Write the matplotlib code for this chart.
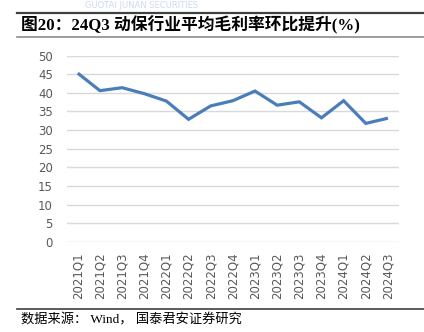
import matplotlib
matplotlib.use("Agg")
import matplotlib.pyplot as plt
from matplotlib.lines import Line2D

# 动保行业季度平均毛利率 (%)
quarters = ["2021Q1", "2021Q2", "2021Q3", "2021Q4",
            "2022Q1", "2022Q2", "2022Q3", "2022Q4",
            "2023Q1", "2023Q2", "2023Q3", "2023Q4",
            "2024Q1", "2024Q2", "2024Q3"]
gross_margin = [45.3, 40.6, 41.4, 39.8, 37.8, 32.9, 36.5, 37.9,
                40.5, 36.7, 37.6, 33.3, 37.9, 31.8, 33.2]
y_ticks = list(range(0, 55, 5))

title = "图20：24Q3 动保行业平均毛利率环比提升(%)"
source = "数据来源： Wind， 国泰君安证券研究"

W, H = 424, 332
fig = plt.figure(figsize=(W / 100, H / 100), dpi=100)

ax = fig.add_axes([66.7 / W, 1 - 241.7 / H, 332.3 / W, 186 / H])
x = list(range(len(quarters)))
ax.plot(x, gross_margin, color="#4a7ebb", linewidth=2.3,
        solid_joinstyle="miter", solid_capstyle="butt", zorder=3)

ax.set_xlim(-0.5, len(quarters) - 0.5)
ax.set_ylim(0, 50)
ax.set_yticks(y_ticks)
ax.set_xticks(x)
ax.set_xticklabels(quarters, rotation=90)
ax.grid(axis="y", color="#d9d9d9", linewidth=1.0, zorder=0)
ax.tick_params(axis="both", length=0, colors="#595959", labelsize=8.5)
ax.tick_params(axis="x", pad=8)
ax.tick_params(axis="y", pad=10)
for s in ax.spines.values():
    s.set_visible(False)

# 页眉淡色文字
fig.text(85 / W, 1 - 1 / H, "GUOTAI JUNAN SECURITIES", color="#c8dcef",
         fontsize=6, ha="left", va="top", family="DejaVu Sans")

# 标题及上下分隔线
fig.add_artist(Line2D([17 / W, 1], [1 - 13.3 / H] * 2, color="#404040",
                      linewidth=1.6, transform=fig.transFigure))
fig.text(21 / W, 1 - 25 / H, title, fontsize=12.1, fontweight="bold",
         family=["Liberation Serif", "Noto Sans CJK SC"],
         ha="left", va="center", color="black")
fig.add_artist(Line2D([17 / W, 1], [1 - 36.5 / H] * 2, color="#8c8c8c",
                      linewidth=1.2, transform=fig.transFigure))

# 数据来源
fig.add_artist(Line2D([17 / W, 1], [1 - 309 / H] * 2, color="#404040",
                      linewidth=1.2, transform=fig.transFigure))
fig.text(21 / W, 1 - 320 / H, source, fontsize=9.5,
         family=["Liberation Serif", "Noto Sans CJK SC"],
         ha="left", va="center", color="black")

fig.savefig("out.png", dpi=100)
